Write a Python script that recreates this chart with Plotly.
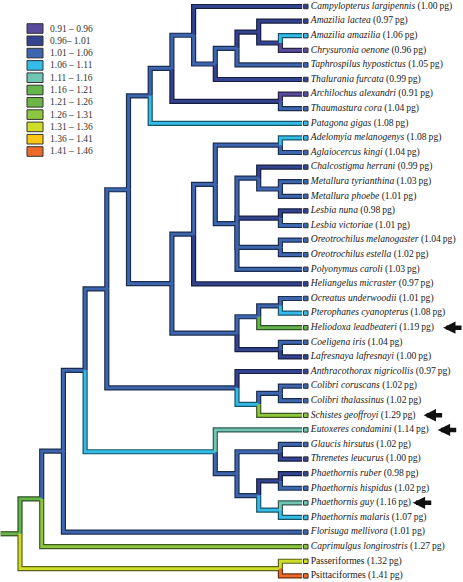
import plotly.graph_objects as go

# ---------------- data ----------------
tips = ["Campylopterus largipennis", "Amazilia lactea", "Amazilia amazilia", "Chrysuronia oenone",
        "Taphrospilus hypostictus", "Thalurania furcata", "Archilochus alexandri", "Thaumastura cora",
        "Patagona gigas", "Adelomyia melanogenys", "Aglaiocercus kingi", "Chalcostigma herrani",
        "Metallura tyrianthina", "Metallura phoebe", "Lesbia nuna", "Lesbia victoriae",
        "Oreotrochilus melanogaster", "Oreotrochilus estella", "Polyonymus caroli", "Heliangelus micraster",
        "Ocreatus underwoodii", "Pterophanes cyanopterus", "Heliodoxa leadbeateri", "Coeligena iris",
        "Lafresnaya lafresnayi", "Anthracothorax nigricollis", "Colibri coruscans", "Colibri thalassinus",
        "Schistes geoffroyi", "Eutoxeres condamini", "Glaucis hirsutus", "Threnetes leucurus",
        "Phaethornis ruber", "Phaethornis hispidus", "Phaethornis guy", "Phaethornis malaris",
        "Florisuga mellivora", "Caprimulgus longirostris", "Passeriformes", "Psittaciformes"]
genome_pg = [1.00, 0.97, 1.06, 0.96, 1.05, 0.99, 0.91, 1.04, 1.08, 1.08, 1.04, 0.99, 1.03, 1.01,
             0.98, 1.01, 1.04, 1.02, 1.03, 0.97, 1.01, 1.08, 1.19, 1.04, 1.00, 0.97, 1.02, 1.02,
             1.29, 1.14, 1.02, 1.00, 0.98, 1.02, 1.16, 1.07, 1.01, 1.27, 1.32, 1.41]
tip_italic = [True] * 38 + [False, False]
tip_class = [1, 1, 3, 0, 2, 1, 0, 2, 3, 3, 2, 1, 2, 2, 1, 2, 2, 2, 2, 1,
             2, 3, 5, 2, 1, 1, 2, 2, 7, 4, 2, 1, 1, 2, 4, 3, 2, 7, 8, 10]

node_names = ["R", "N42", "PP", "N63", "N83", "N107", "N128", "N148", "N173", "N193", "N215", "N237a",
              "N258", "AmzPair", "ArchPair", "N170", "N192", "N213", "AdelPair", "N237p", "N257c",
              "MetalPair", "LesbiaPair", "OreoPair", "N235", "N257o", "OcrPair", "CoelPair", "N235b",
              "N257col", "ColibriPair", "N213b", "N233", "GlaucisPair", "N257b", "PhPair1", "PhPair2"]
node_level = [0, 1, 12, 2, 3, 4, 5, 6, 7, 8, 9, 10,
              11, 12, 12, 7, 8, 9, 12, 10, 11,
              12, 12, 12, 10, 11, 12, 12, 10,
              11, 12, 9, 10, 12, 11, 12, 12]
node_children = [
    ["N42", "PP"], ["N63", "Caprimulgus longirostris"], ["Passeriformes", "Psittaciformes"],
    ["N83", "Florisuga mellivora"], ["N107", "N213b"], ["N128", "N235b"], ["N148", "N170"],
    ["N173", "Patagona gigas"], ["N193", "ArchPair"], ["Campylopterus largipennis", "N215"],
    ["N237a", "Thalurania furcata"], ["N258", "Taphrospilus hypostictus"],
    ["Amazilia lactea", "AmzPair"], ["Amazilia amazilia", "Chrysuronia oenone"],
    ["Archilochus alexandri", "Thaumastura cora"], ["N192", "N235"], ["N213", "Heliangelus micraster"],
    ["AdelPair", "N237p"], ["Adelomyia melanogenys", "Aglaiocercus kingi"],
    ["N257c", "LesbiaPair", "OreoPair", "Polyonymus caroli"], ["Chalcostigma herrani", "MetalPair"],
    ["Metallura tyrianthina", "Metallura phoebe"], ["Lesbia nuna", "Lesbia victoriae"],
    ["Oreotrochilus melanogaster", "Oreotrochilus estella"], ["N257o", "CoelPair"],
    ["OcrPair", "Heliodoxa leadbeateri"], ["Ocreatus underwoodii", "Pterophanes cyanopterus"],
    ["Coeligena iris", "Lafresnaya lafresnayi"], ["Anthracothorax nigricollis", "N257col"],
    ["ColibriPair", "Schistes geoffroyi"], ["Colibri coruscans", "Colibri thalassinus"],
    ["Eutoxeres condamini", "N233"], ["GlaucisPair", "N257b"], ["Glaucis hirsutus", "Threnetes leucurus"],
    ["PhPair1", "PhPair2"], ["Phaethornis ruber", "Phaethornis hispidus"],
    ["Phaethornis guy", "Phaethornis malaris"]]
node_class = [6, 5, 8, 2, 2, 2, 2, 2, 2, 2, 2, 2,
              1, 1, 1, 2, 2, 2, 2, 2, 2,
              2, 1, 2, 2, 2, 2, 1, 2,
              3, 2, 3, 2, 2, 2, 1, 3]

legend_labels = ["0.91 \u2013 0.96", "0.96\u2013 1.01", "1.01 \u2013 1.06", "1.06 \u2013 1.11",
                 "1.11 \u2013 1.16", "1.16 \u2013 1.21", "1.21 \u2013 1.26", "1.26 \u2013 1.31",
                 "1.31 \u2013 1.36", "1.36 \u2013 1.41", "1.41 \u2013 1.46"]
class_colors = ["#5B4B9C", "#33438F", "#3D66AF", "#33BCE8", "#6FC6B2", "#64B54C", "#6DB546",
                "#8DC63F", "#CFDD2A", "#FCC614", "#EE6A2B"]
arrow_species = ["Heliodoxa leadbeateri", "Schistes geoffroyi", "Eutoxeres condamini", "Phaethornis guy"]

# ---------------- layout helpers ----------------
W, H = 463, 582
TIP_LEVEL = 13
X_RANGE = [-0.9217, 20.415]
Y_RANGE = [39.42, -0.445]


def darker(hexc, f=0.45):
    r, g, b = int(hexc[1:3], 16), int(hexc[3:5], 16), int(hexc[5:7], 16)
    return "#%02x%02x%02x" % (int(r * f), int(g * f), int(b * f))


tip_index = {n: i for i, n in enumerate(tips)}
node_index = {n: i for i, n in enumerate(node_names)}
ypos = {}


def get_y(name):
    if name in tip_index:
        return tip_index[name]
    if name in ypos:
        return ypos[name]
    ch = node_children[node_index[name]]
    y = (get_y(ch[0]) + get_y(ch[-1])) / 2
    ypos[name] = y
    return y


def get_level(name):
    return TIP_LEVEL if name in tip_index else node_level[node_index[name]]


def get_class(name):
    return tip_class[tip_index[name]] if name in tip_index else node_class[node_index[name]]


seg_x = {k: [] for k in range(len(class_colors))}
seg_y = {k: [] for k in range(len(class_colors))}
for pi, pname in enumerate(node_names):
    px_, py_ = node_level[pi], get_y(pname)
    for c in node_children[pi]:
        cy = get_y(c)
        k = get_class(c)
        seg_x[k] += [px_, px_, get_level(c), None]
        seg_y[k] += [py_, cy, cy, None]
# root stem
rk = node_class[0]
seg_x[rk] += [X_RANGE[0] + 0.03, 0, None]
seg_y[rk] += [get_y("R"), get_y("R"), None]

fig = go.Figure()
for k in seg_x:
    if seg_x[k]:
        fig.add_trace(go.Scatter(x=seg_x[k], y=seg_y[k], mode="lines",
                                 line=dict(color=darker(class_colors[k]), width=5.2),
                                 hoverinfo="skip", showlegend=False))
for k in seg_x:
    if seg_x[k]:
        fig.add_trace(go.Scatter(x=seg_x[k], y=seg_y[k], mode="lines",
                                 line=dict(color=class_colors[k], width=2.8),
                                 hoverinfo="skip", showlegend=False))

# tip squares
fig.add_trace(go.Scatter(x=[TIP_LEVEL + 0.17] * len(tips), y=list(range(len(tips))), mode="markers",
                         marker=dict(symbol="square", size=4.5,
                                     color=[class_colors[k] for k in tip_class],
                                     line=dict(color="#333333", width=1)),
                         hoverinfo="skip", showlegend=False))

# tip labels
labels = []
for n, v, it in zip(tips, genome_pg, tip_italic):
    nm = f"<i>{n}</i>" if it else n
    labels.append(f"{nm} ({v:.2f}\u2009pg)")
fig.add_trace(go.Scatter(x=[TIP_LEVEL + 0.4] * len(tips), y=list(range(len(tips))), mode="text",
                         text=labels, textposition="middle right", cliponaxis=False,
                         textfont=dict(family="Liberation Serif", size=9.6, color="#1a1a1a"),
                         hoverinfo="skip", showlegend=False))

# arrows
arrow_head_level = [19.5, 18.6, 19.25, 18.1]
for sp, hx in zip(arrow_species, arrow_head_level):
    fig.add_annotation(x=hx, y=tip_index[sp], ax=20, ay=0, text="", showarrow=True,
                       arrowhead=2, arrowsize=0.55, arrowwidth=4.5, arrowcolor="#111111",
                       xref="x", yref="y")

# legend
for i, (lab, col) in enumerate(zip(legend_labels, class_colors)):
    yc = 28.5 + 12.3 * i
    fig.add_shape(type="rect", xref="paper", yref="paper",
                  x0=27 / W, x1=43 / W, y0=1 - (yc + 4.8) / H, y1=1 - (yc - 4.8) / H,
                  fillcolor=col, line=dict(color="#333333", width=1))
    fig.add_annotation(x=48 / W, y=1 - yc / H, xref="paper", yref="paper", text=lab,
                       showarrow=False, xanchor="left", yanchor="middle",
                       font=dict(family="Liberation Serif", size=9.5, color="#333333"))

fig.update_layout(width=W, height=H, margin=dict(l=0, r=0, t=0, b=0),
                  paper_bgcolor="white", plot_bgcolor="white",
                  xaxis=dict(range=X_RANGE, visible=False, fixedrange=True),
                  yaxis=dict(range=Y_RANGE, visible=False, fixedrange=True))
fig.write_html("out.html", post_script="document.body.style.margin='0px';",
               config={"displayModeBar": False})
